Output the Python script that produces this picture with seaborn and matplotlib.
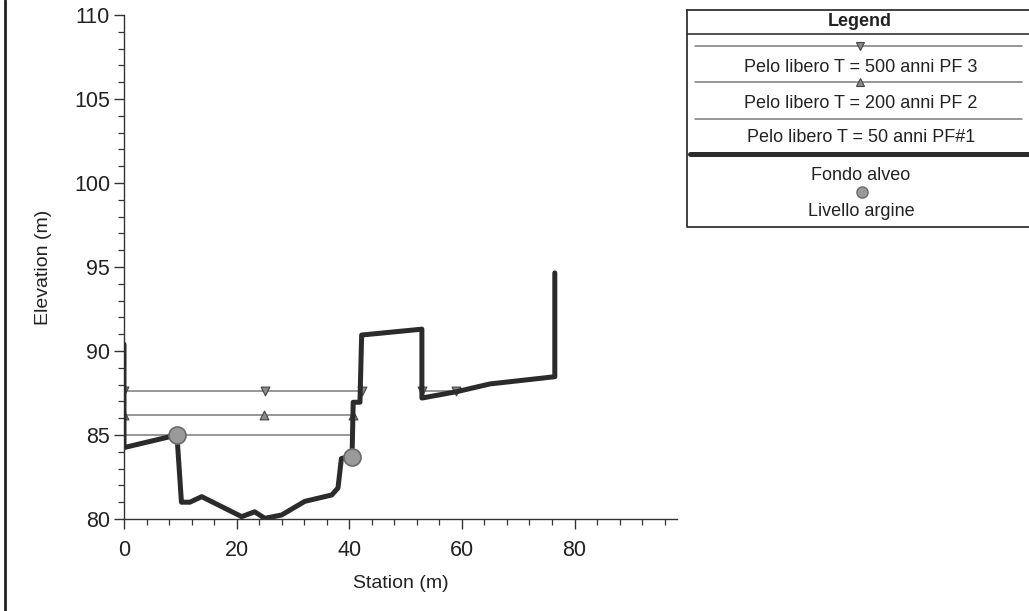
import numpy as np
import pandas as pd
import matplotlib
matplotlib.use("Agg")
import matplotlib.pyplot as plt
import seaborn as sns

# ---------------- data ----------------
ground_station = [0.0, 0.0, 9.4, 10.2, 11.7, 13.8, 20.9, 23.2, 25.0, 28.0, 32.1,
                  36.9, 38.0, 38.6, 40.5, 40.7, 41.9, 42.2, 52.9, 52.9, 59.1,
                  65.0, 76.5, 76.5]
ground_elev = [90.4, 84.25, 85.0, 81.0, 81.0, 81.33, 80.14, 80.43, 80.04, 80.24,
               81.05, 81.43, 81.85, 83.6, 83.75, 86.95, 86.95, 90.95, 91.3, 87.2,
               87.58, 88.04, 88.47, 94.65]

# water surfaces (segments: start, end) and marker stations
pf3_elev = 87.6
pf3_segments = [(0.0, 42.2), (52.9, 59.1)]
pf3_markers = [0.0, 25.0, 42.2, 52.9, 59.0]

pf2_elev = 86.2
pf2_segments = [(0.0, 40.6)]
pf2_markers = [0.0, 24.8, 40.6]

pf1_elev = 85.0
pf1_segments = [(0.0, 40.5)]

levee_station = [9.4, 40.5]
levee_elev = [85.0, 83.7]

legend_labels = ["Pelo libero T = 500 anni PF 3",
                 "Pelo libero T = 200 anni PF 2",
                 "Pelo libero T = 50 anni PF#1",
                 "Fondo alveo",
                 "Livello argine"]

x_major = [0, 20, 40, 60, 80]
y_major = [80, 85, 90, 95, 100, 105, 110]

# ---------------- style ----------------
sns.set_theme(style="ticks")
plt.rcParams['font.family'] = ['Liberation Sans', 'DejaVu Sans']

W, H = 1029, 611
fig = plt.figure(figsize=(W / 100, H / 100), dpi=100)
ax = fig.add_axes([124 / W, 1 - 519 / H, (677 - 124) / W, (519 - 15) / H])

water_col = "#7a7a7a"
ground_col = "#2b2b2b"

def seg_df(segments, elev):
    rows = []
    for i, (a, b) in enumerate(segments):
        rows.append({"seg": i, "x": a, "y": elev, "o": 0})
        rows.append({"seg": i, "x": b, "y": elev, "o": 1})
    return pd.DataFrame(rows)

for segs, elev in [(pf3_segments, pf3_elev), (pf2_segments, pf2_elev), (pf1_segments, pf1_elev)]:
    d = seg_df(segs, elev)
    for _, g in d.groupby("seg"):
        sns.lineplot(data=g, x="x", y="y", sort=False, estimator=None,
                     color=water_col, linewidth=1.1, ax=ax, zorder=2)

sns.scatterplot(x=pf3_markers, y=[pf3_elev] * len(pf3_markers), marker="v", s=40,
                color="#8a8a8a", edgecolor="#444444", linewidth=0.8, ax=ax, zorder=3)
sns.scatterplot(x=pf2_markers, y=[pf2_elev] * len(pf2_markers), marker="^", s=40,
                color="#8a8a8a", edgecolor="#444444", linewidth=0.8, ax=ax, zorder=3)

gdf = pd.DataFrame({"x": ground_station, "y": ground_elev})
sns.lineplot(data=gdf, x="x", y="y", sort=False, estimator=None,
             color=ground_col, linewidth=3.6, ax=ax, zorder=4)

sns.scatterplot(x=levee_station, y=levee_elev, s=150, color="#9a9a9a",
                edgecolor="#6a6a6a", linewidth=1.2, ax=ax, zorder=5)

ax.set_xlim(0, 98.2)
ax.set_ylim(80, 110)
ax.set_xticks(x_major)
ax.set_yticks(y_major)
ax.set_xticks(np.arange(0, 97, 4), minor=True)
ax.set_yticks(np.arange(80, 110.1, 1), minor=True)
for s in ["top", "right"]:
    ax.spines[s].set_visible(False)
for s in ["left", "bottom"]:
    ax.spines[s].set_color("#333333")
    ax.spines[s].set_linewidth(1.0)
ax.tick_params(axis="both", which="major", length=7, width=1.0, color="#333333",
               labelsize=15.5, labelcolor="#222222")
ax.tick_params(axis="x", which="major", pad=8)
ax.tick_params(axis="y", which="major", pad=3)
ax.tick_params(axis="both", which="minor", length=4, width=0.9, color="#333333")
ax.set_xlabel("Station (m)", fontsize=14, color="#222222", labelpad=10)
ax.set_ylabel("Elevation (m)", fontsize=14, color="#222222", labelpad=16)
ax.grid(False)

# ---------------- legend box (pixel coordinates) ----------------
lax = fig.add_axes([0, 0, 1, 1], zorder=10)
lax.set_xlim(0, W)
lax.set_ylim(H, 0)
lax.axis("off")
lax.patch.set_alpha(0)

# page border on the left
lax.plot([5, 5], [0, H], color="#222222", lw=2.0)

fs = 13
bx0, bx1, by0, by1 = 687, 1040, 10, 227
lax.plot([bx0, bx1, bx1, bx0, bx0], [by0, by0, by1, by1, by0], color="#333333", lw=1.3)
lax.text(860, 21, "Legend", ha="center", va="center", fontsize=fs,
         fontweight="bold", color="#222222")
lax.plot([bx0, bx1], [34, 34], color="#333333", lw=1.2)

lax.plot([695, 1022], [46, 46], color=water_col, lw=1.1)
lax.plot([860], [46], marker="v", ms=6, color="#8a8a8a", mec="#444444", mew=0.8)
lax.text(861, 68, legend_labels[0], ha="center", va="center", fontsize=fs, color="#222222")

lax.plot([695, 1022], [82, 82], color=water_col, lw=1.1)
lax.plot([860], [82], marker="^", ms=6, color="#8a8a8a", mec="#444444", mew=0.8)
lax.text(861, 104, legend_labels[1], ha="center", va="center", fontsize=fs, color="#222222")

lax.plot([695, 1022], [119, 119], color=water_col, lw=1.1)
lax.text(861, 137, legend_labels[2], ha="center", va="center", fontsize=fs, color="#222222")

lax.plot([690, 1029], [154, 154], color=ground_col, lw=3.6)
lax.text(861, 175, legend_labels[3], ha="center", va="center", fontsize=fs, color="#222222")
lax.plot([862], [192], marker="o", ms=8, color="#9a9a9a", mec="#6a6a6a", mew=1.0)
lax.text(861, 212, legend_labels[4], ha="center", va="center", fontsize=fs, color="#222222")

fig.savefig("out.png", dpi=100)
